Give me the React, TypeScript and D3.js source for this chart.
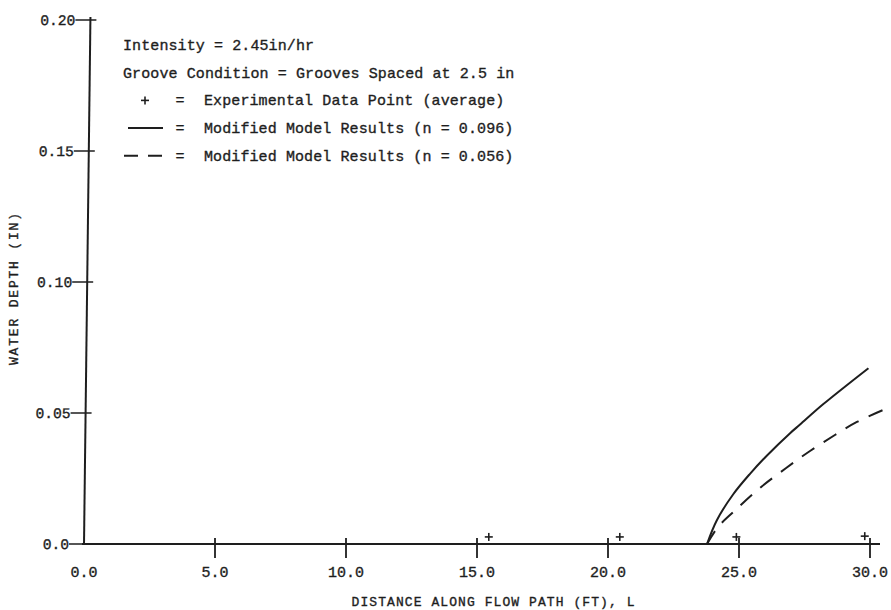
import React from "react";
import * as d3 from "d3";

// Axis ticks
const xTicks = [0, 5, 10, 15, 20, 25, 30];
const xTickLabels = ["0.0", "5.0", "10.0", "15.0", "20.0", "25.0", "30.0"];
const yTicks = [0, 0.05, 0.1, 0.15, 0.2];
const yTickLabels = ["0.0", "0.05", "0.10", "0.15", "0.20"];

// Experimental data points (average), distance L (ft) vs depth (in)
const experimentalL = [15.45, 20.45, 24.9, 29.8];
const experimentalDepth = [0.0027, 0.0027, 0.0027, 0.003];

// Modified model results, n = 0.096
const model096L = [23.78, 24.15, 24.78, 25.42, 26.06, 26.95, 27.33, 28.22, 29.94];
const model096Depth = [0, 0.009, 0.019, 0.0268, 0.0337, 0.0423, 0.0456, 0.0534, 0.0671];

// Modified model results, n = 0.056
const model056L = [23.78, 24.2, 24.78, 25.8, 26.8, 27.71, 28.66, 29.5, 30.7];
const model056Depth = [0, 0.0065, 0.0122, 0.0214, 0.029, 0.0355, 0.0416, 0.0466, 0.052];

const notes = ["Intensity = 2.45in/hr", "Groove Condition = Grooves Spaced at 2.5 in"];
const legendLabels = [
  "Experimental Data Point (average)",
  "Modified Model Results (n = 0.096)",
  "Modified Model Results (n = 0.056)",
];

const xTitle = "DISTANCE ALONG FLOW PATH (FT), L";
const yTitle = "WATER DEPTH (IN)";

const W = 891;
const H = 610;
const INK = "#1e1e1e";
const FONT = "'Liberation Mono', 'DejaVu Sans Mono', monospace";

export default function App() {
  const x = d3.scaleLinear().domain([0, 30]).range([84, 870]);
  const y = d3.scaleLinear().domain([0, 0.2]).range([544, 20]);

  const line = d3
    .line<[number, number]>()
    .x((d) => x(d[0]))
    .y((d) => y(d[1]))
    .curve(d3.curveCatmullRom.alpha(0.5));

  const solid = model096L.map((l, i) => [l, model096Depth[i]] as [number, number]);
  const dashed = model056L.map((l, i) => [l, model056Depth[i]] as [number, number]);

  const x0 = x(0);
  const y0 = y(0);
  // slight lean of the vertical axis
  const lean = `translate(${x0},${y0}) skewX(-0.7) translate(${-x0},${-y0})`;

  const legendX = 123;
  const rowY = (i: number) => 50 + i * 27.7;
  const textInk = { fill: INK, stroke: INK, strokeWidth: 0.35 };

  return (
    <svg
      width={W}
      height={H}
      style={{ position: "fixed", left: 0, top: 0, background: "#fff" }}
      fontFamily={FONT}
    >
      <rect width={W} height={H} fill="#fff" />

      {/* y axis */}
      <g transform={lean}>
        <line x1={x0} x2={x0} y1={y0} y2={y(0.2) - 3} stroke={INK} strokeWidth={2} />
        {yTicks.map((t, i) => (
          <g key={t}>
            <line x1={x0 - 15} x2={x0 + 6} y1={y(t)} y2={y(t)} stroke={INK} strokeWidth={1.6} />
            <text x={x0 - 15} y={y(t)} dy="0.35em" textAnchor="end" fontSize={14.6} {...textInk}>
              {yTickLabels[i]}
            </text>
          </g>
        ))}
      </g>

      {/* x axis */}
      <line x1={x0 - 2} x2={880} y1={y0} y2={y0} stroke={INK} strokeWidth={2} />
      {xTicks.map((t, i) => (
        <g key={t}>
          {t > 0 && (
            <line x1={x(t)} x2={x(t)} y1={y0 - 6} y2={y0 + 14} stroke={INK} strokeWidth={1.8} />
          )}
          <text x={x(t)} y={577} textAnchor="middle" fontSize={15} {...textInk}>
            {xTickLabels[i]}
          </text>
        </g>
      ))}

      {/* axis titles */}
      <text
        x={493}
        y={606}
        textAnchor="middle"
        fontSize={13}
        {...textInk}
        textLength={283}
        lengthAdjust="spacing"
      >
        {xTitle}
      </text>
      <text
        transform={`translate(18,289) rotate(-90)`}
        textAnchor="middle"
        fontSize={13}
        {...textInk}
        textLength={152}
        lengthAdjust="spacing"
      >
        {yTitle}
      </text>

      {/* model curves */}
      <path d={line(solid) ?? ""} fill="none" stroke={INK} strokeWidth={2} />
      <path d={line(dashed) ?? ""} fill="none" stroke={INK} strokeWidth={2} strokeDasharray="15 11" />

      {/* experimental points */}
      {experimentalL.map((l, i) => {
        const cx = x(l);
        const cy = y(experimentalDepth[i]);
        return (
          <g key={l} stroke={INK} strokeWidth={1.6}>
            <line x1={cx - 4} x2={cx + 4} y1={cy} y2={cy} />
            <line x1={cx} x2={cx} y1={cy - 4} y2={cy + 4} />
          </g>
        );
      })}

      {/* notes and legend */}
      {notes.map((n, i) => (
        <text key={n} x={legendX} y={rowY(i)} fontSize={15} {...textInk} letterSpacing={0.1}>
          {n}
        </text>
      ))}
      <g stroke={INK} strokeWidth={1.6}>
        <line x1={141} x2={149} y1={rowY(2) - 5} y2={rowY(2) - 5} />
        <line x1={145} x2={145} y1={rowY(2) - 9} y2={rowY(2) - 1} />
      </g>
      <line x1={128} x2={163} y1={rowY(3) - 5} y2={rowY(3) - 5} stroke={INK} strokeWidth={2} />
      <line
        x1={124}
        x2={172}
        y1={rowY(4) - 5}
        y2={rowY(4) - 5}
        stroke={INK}
        strokeWidth={2}
        strokeDasharray="14 10"
      />
      {legendLabels.map((t, i) => (
        <g key={t}>
          <text x={180} y={rowY(i + 2)} textAnchor="middle" fontSize={15} {...textInk}>
            =
          </text>
          <text x={204} y={rowY(i + 2)} fontSize={15} {...textInk} letterSpacing={0.1}>
            {t}
          </text>
        </g>
      ))}
    </svg>
  );
}
